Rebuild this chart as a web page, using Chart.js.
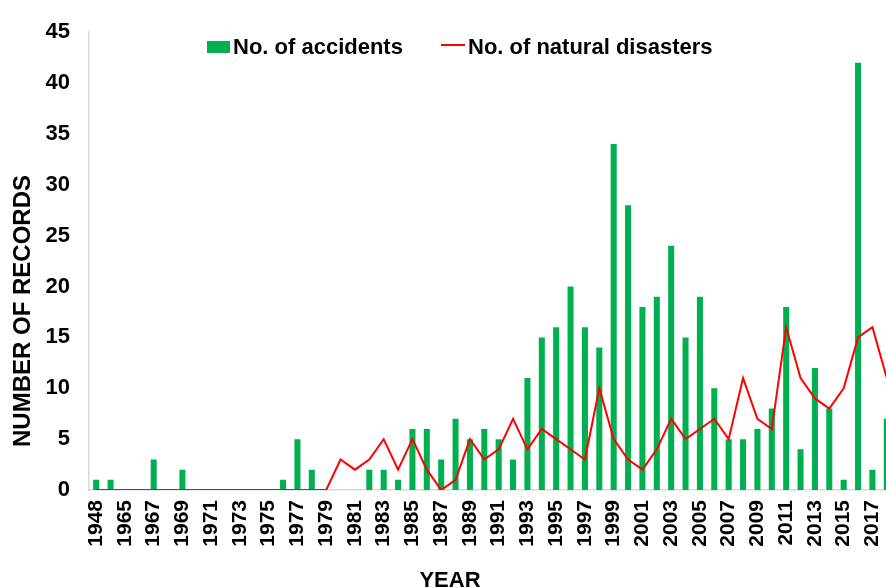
<!DOCTYPE html>
<html>
<head>
<meta charset="utf-8">
<script src="https://cdn.jsdelivr.net/npm/chart.js@4.4.0/dist/chart.umd.min.js"></script>
<style>
  body { margin: 0; overflow: hidden; background: #fff; font-family: "Liberation Sans", Arial, sans-serif; }
  #wrap { position: relative; width: 886px; height: 588px; overflow: hidden; }
  canvas { position: absolute; left: 0; top: 0; }
  .txt { position: absolute; font-weight: bold; font-size: 22px; color: #000; white-space: nowrap; line-height: 1; }
  .swatch { position: absolute; }
</style>
</head>
<body>
<div id="wrap">
  <canvas id="chart" width="922" height="588"></canvas>
  <div class="swatch" style="left:207px;top:41px;width:23px;height:12px;background:#00B050"></div>
  <div class="txt" style="left:233px;top:36px">No. of accidents</div>
  <div class="swatch" style="left:441px;top:44px;width:24px;height:2px;background:#FF0000"></div>
  <div class="txt" style="left:468px;top:36px">No. of natural disasters</div>
  <div class="txt" style="left:450px;top:580px;transform:translate(-50%,-50%)">YEAR</div>
  <div class="txt" style="left:22px;top:311px;font-size:24px;transform:translate(-50%,-50%) rotate(-90deg)">NUMBER OF RECORDS</div>
</div>
<script>
// Years on the x axis (only every other one gets a label)
const years = ['1948', '1964', '1965', '1966', '1967', '1968', '1969', '1970', '1971', '1972',
  '1973', '1974', '1975', '1976', '1977', '1978', '1979', '1980', '1981', '1982',
  '1983', '1984', '1985', '1986', '1987', '1988', '1989', '1990', '1991', '1992',
  '1993', '1994', '1995', '1996', '1997', '1998', '1999', '2000', '2001', '2002',
  '2003', '2004', '2005', '2006', '2007', '2008', '2009', '2010', '2011', '2012',
  '2013', '2014', '2015', '2016', '2017', '2018'];

// No. of accidents per year
const accidents = [1, 1, 0, 0, 3, 0, 2, 0, 0, 0,
  0, 0, 0, 1, 5, 2, 0, 0, 0, 2,
  2, 1, 6, 6, 3, 7, 5, 6, 5, 3,
  11, 15, 16, 20, 16, 14, 34, 28, 18, 19,
  24, 15, 19, 10, 5, 5, 6, 8, 18, 4,
  12, 8, 1, 42, 2, 7];

// No. of natural disasters per year
const disasters = [0, 0, 0, 0, 0, 0, 0, 0, 0, 0,
  0, 0, 0, 0, 0, 0, 0, 3, 2, 3,
  5, 2, 5, 2, 0, 1, 5, 3, 4, 7,
  4, 6, 5, 4, 3, 10, 5, 3, 2, 4,
  7, 5, 6, 7, 5, 11, 7, 6, 16, 11,
  9, 8, 10, 15, 16, 11];

const yTicks = [0, 5, 10, 15, 20, 25, 30, 35, 40, 45];

const ctx = document.getElementById('chart').getContext('2d');
new Chart(ctx, {
  type: 'bar',
  data: {
    labels: years,
    datasets: [
      {
        type: 'line',
        label: 'No. of natural disasters',
        data: disasters,
        borderColor: '#FF0000',
        borderWidth: 2,
        pointRadius: 0,
        tension: 0,
        order: 0
      },
      {
        label: 'No. of accidents',
        data: accidents,
        backgroundColor: '#00B050',
        categoryPercentage: 1,
        barPercentage: 0.42,
        order: 1
      }
    ]
  },
  options: {
    responsive: false,
    animation: false,
    layout: { padding: { top: 27, right: 0, left: 0, bottom: 0 } },
    plugins: {
      legend: { display: false },
      tooltip: { enabled: false }
    },
    scales: {
      x: {
        grid: { display: false, drawTicks: false },
        border: { color: '#d9d9d9', width: 1.5 },
        ticks: {
          autoSkip: false,
          minRotation: 90,
          maxRotation: 90,
          padding: 10,
          color: '#000',
          font: { family: 'Liberation Sans', weight: 'bold', size: 21 },
          callback: (v, i) => (i % 2 === 0 ? years[i] : '')
        },
        afterFit: scale => { scale.height = 98; }
      },
      y: {
        min: 0,
        max: 45,
        grid: { display: false, drawTicks: false },
        border: { color: '#d9d9d9', width: 1.5 },
        afterBuildTicks: scale => { scale.ticks = yTicks.map(v => ({ value: v })); },
        ticks: {
          padding: 19,
          color: '#000',
          font: { family: 'Liberation Sans', weight: 'bold', size: 22 }
        },
        afterFit: scale => { scale.width = 89; }
      }
    }
  }
});
</script>
</body>
</html>
